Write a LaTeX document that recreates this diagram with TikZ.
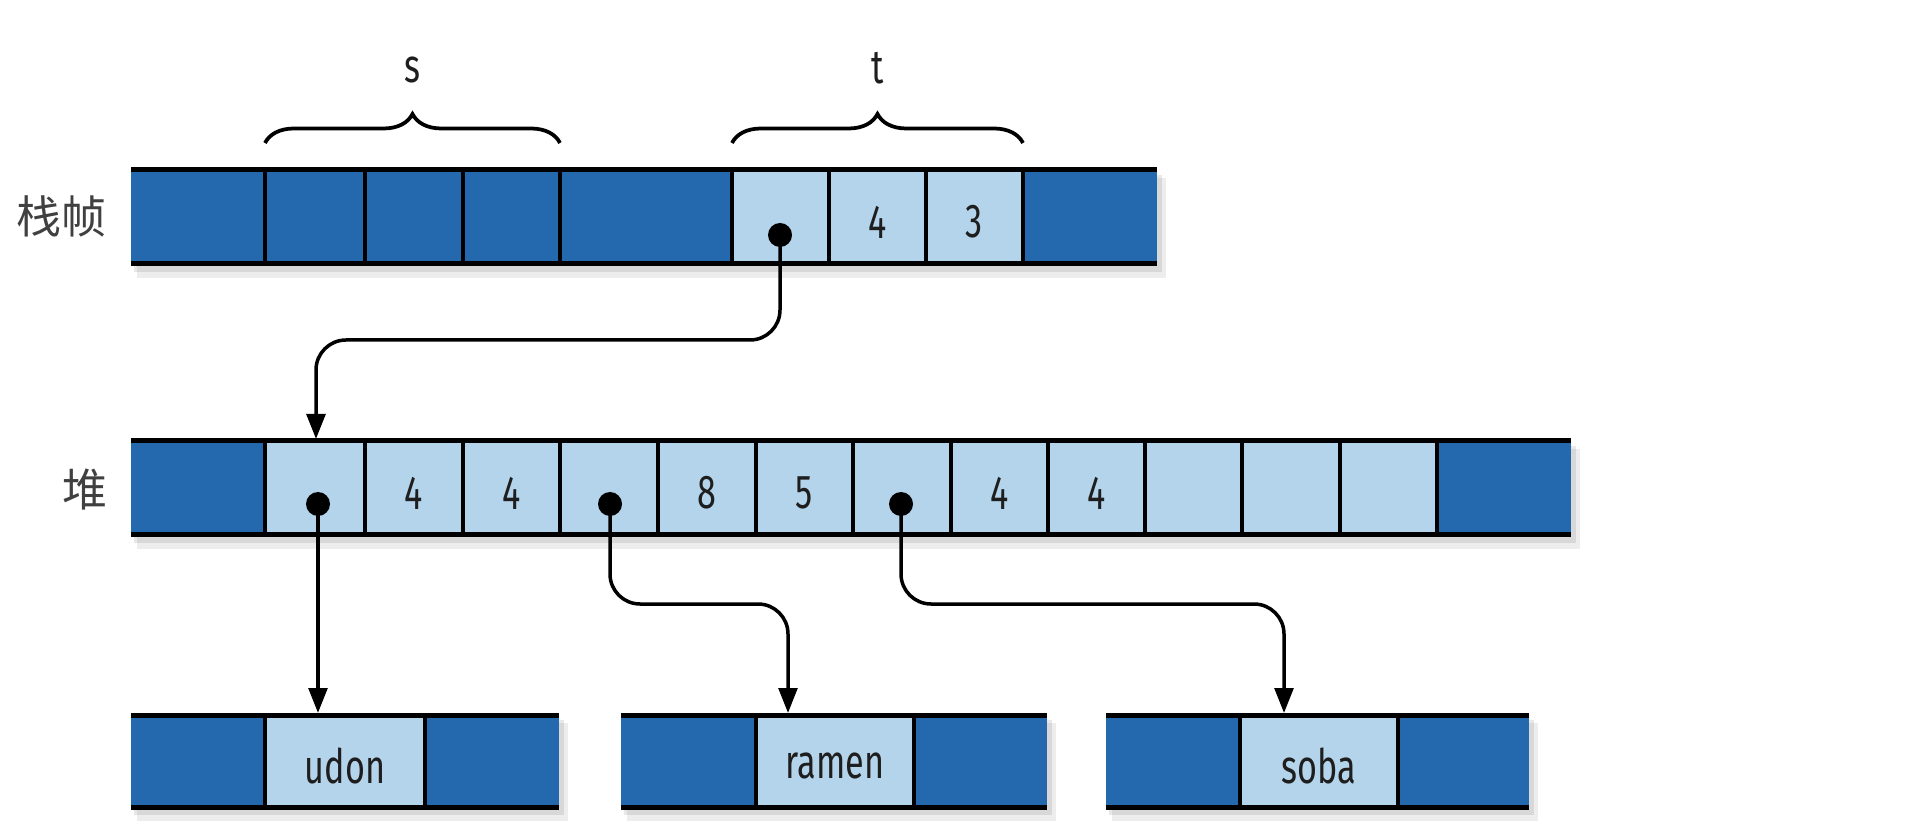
\documentclass[tikz,border=0pt]{standalone}
\usepackage{fontspec}
\setmainfont{Fira Sans}[FakeStretch=0.72]
\newfontfamily\cjk{Noto Sans CJK SC}
\usetikzlibrary{arrows.meta,decorations.pathreplacing}
\definecolor{dkblue}{HTML}{2468AE}
\definecolor{ltblue}{HTML}{B4D4EC}
\definecolor{txt}{HTML}{1E1E1E}
\newcommand\cellbox[7]{\node[#6, minimum width={(#3-#2)*0.4pt}, minimum height={(#5-#4)*0.4pt}] (#1) at ({(#2+#3)/2},{(#4+#5)/2}) {#7};}
\newcommand\rowshadow[4]{%
  \fill[black,opacity=0.07] (#1+6,#3+8) rectangle (#2+9,#4+14);
  \fill[black,opacity=0.09] (#1+3,#3+5) rectangle (#2+5,#4+8);}
\begin{document}
\begin{tikzpicture}[x=0.4pt,y=-0.4pt,
  cellbase/.style={inner sep=0pt, outer sep=0pt, draw=none},
  dk/.style={cellbase, fill=dkblue},
  lt/.style={cellbase, fill=ltblue},
  div/.style={line width=1.4pt, black},
  edge/.style={line width=2pt, black},
  dot/.style={circle, fill=black, inner sep=0pt, minimum size=9.6pt},
  num/.style={font=\fontsize{19}{22}\selectfont, text=txt, inner sep=0pt},
  lab/.style={font=\fontsize{19}{22}\selectfont, text=txt, inner sep=0pt},
  side/.style={font=\cjk\fontsize{18}{22}\selectfont, text=black!75, inner sep=0pt},
  brc/.style={decorate, decoration={brace, amplitude=11.6pt, aspect=0.5}, line width=1.5pt, black},
  ptr/.style={line width=1.4pt, black, rounded corners=12pt, -{Triangle[length=10pt,width=7.5pt]}}]
\useasboundingbox (0,0) rectangle (1906,838);

% ---------- stack frame row ----------
\rowshadow{131}{1157}{170}{264}
\cellbox{s0}{131}{265}{170}{264}{dk}{}
\cellbox{s1}{265}{365}{170}{264}{dk}{}
\cellbox{s2}{365}{463}{170}{264}{dk}{}
\cellbox{s3}{463}{560}{170}{264}{dk}{}
\cellbox{s4}{560}{732}{170}{264}{dk}{}
\cellbox{s5}{732}{829}{170}{264}{lt}{}
\cellbox{s6}{829}{926}{170}{264}{lt}{}
\cellbox{s7}{926}{1023}{170}{264}{lt}{}
\cellbox{s8}{1023}{1157}{170}{264}{dk}{}
\foreach \c in {s0,s1,s2,s3,s4,s5,s6,s7} \draw[div] (\c.north east) -- (\c.south east);
\draw[edge] (s0.north west) -- (s8.north east);
\draw[edge] (s0.south west) -- (s8.south east);
\node[num] (n1) at ([yshift=-2pt]s6.center) {4};
\node[num] (n2) at ([yshift=-2pt]s7.center) {3};
\node[side] (lstack) at (61,216) {栈帧};

% braces
\draw[brc] ([yshift=10.8pt]s1.north west) -- ([yshift=10.8pt]s3.north east);
\draw[brc] ([yshift=10.8pt]s5.north west) -- ([yshift=10.8pt]s7.north east);
\node[lab] (ls) at (412,70) {s};
\node[lab] (lt) at (878,68) {t};

% ---------- heap row ----------
\rowshadow{131}{1571}{441}{535}
\cellbox{h0}{131}{265}{441}{535}{dk}{}
\cellbox{h1}{265}{365}{441}{535}{lt}{}
\cellbox{h2}{365}{463}{441}{535}{lt}{}
\cellbox{h3}{463}{560}{441}{535}{lt}{}
\cellbox{h4}{560}{658}{441}{535}{lt}{}
\cellbox{h5}{658}{756}{441}{535}{lt}{}
\cellbox{h6}{756}{853}{441}{535}{lt}{}
\cellbox{h7}{853}{951}{441}{535}{lt}{}
\cellbox{h8}{951}{1048}{441}{535}{lt}{}
\cellbox{h9}{1048}{1145}{441}{535}{lt}{}
\cellbox{h10}{1145}{1242}{441}{535}{lt}{}
\cellbox{h11}{1242}{1340}{441}{535}{lt}{}
\cellbox{h12}{1340}{1437}{441}{535}{lt}{}
\cellbox{h13}{1437}{1571}{441}{535}{dk}{}
\foreach \c in {h0,h1,h2,h3,h4,h5,h6,h7,h8,h9,h10,h11,h12} \draw[div] (\c.north east) -- (\c.south east);
\draw[edge] (h0.north west) -- (h13.north east);
\draw[edge] (h0.south west) -- (h13.south east);
\node[num] (n3) at ([yshift=-2pt]h2.center) {4};
\node[num] (n4) at ([yshift=-2pt]h3.center) {4};
\node[num] (n5) at ([yshift=-2pt]h5.center) {8};
\node[num] (n6) at ([yshift=-2pt]h6.center) {5};
\node[num] (n7) at ([yshift=-2pt]h8.center) {4};
\node[num] (n8) at ([yshift=-2pt]h9.center) {4};
\node[side] (lheap) at (85,490) {堆};

% ---------- string rows ----------
\rowshadow{131}{559}{715}{807}
\cellbox{u0}{131}{265}{715}{807}{dk}{}
\cellbox{u1}{265}{425}{715}{807}{lt}{}
\cellbox{u2}{425}{559}{715}{807}{dk}{}
\foreach \c in {u0,u1} \draw[div] (\c.north east) -- (\c.south east);
\draw[edge] (u0.north west) -- (u2.north east);
\draw[edge] (u0.south west) -- (u2.south east);
\node[num] (tu) at ([yshift=-2pt]u1.center) {udon};

\rowshadow{621}{1047}{715}{807}
\cellbox{r0}{621}{756}{715}{807}{dk}{}
\cellbox{r1}{756}{914}{715}{807}{lt}{}
\cellbox{r2}{914}{1047}{715}{807}{dk}{}
\foreach \c in {r0,r1} \draw[div] (\c.north east) -- (\c.south east);
\draw[edge] (r0.north west) -- (r2.north east);
\draw[edge] (r0.south west) -- (r2.south east);
\node[num] (tr) at ([yshift=-2pt]r1.center) {ramen};

\rowshadow{1106}{1529}{715}{807}
\cellbox{b0}{1106}{1240}{715}{807}{dk}{}
\cellbox{b1}{1240}{1398}{715}{807}{lt}{}
\cellbox{b2}{1398}{1529}{715}{807}{dk}{}
\foreach \c in {b0,b1} \draw[div] (\c.north east) -- (\c.south east);
\draw[edge] (b0.north west) -- (b2.north east);
\draw[edge] (b0.south west) -- (b2.south east);
\node[num] (tb) at ([yshift=-2pt]b1.center) {soba};

% ---------- pointers ----------
\coordinate (turn1) at (316,340);
\coordinate (hin) at (316,439);
\coordinate (uin) at (318,713);
\coordinate (turn2) at (788,604);
\coordinate (rin) at (788,713);
\coordinate (turn3) at (1284,604);
\coordinate (bin) at (1284,713);

\node[dot] (sd) at (780,235) {};
\node[dot] (hd1) at (318,504) {};
\node[dot] (hd2) at (610,504) {};
\node[dot] (hd3) at (901,504) {};

\draw[ptr] (sd.center) |- (turn1) -- (hin);
\draw[ptr] (hd1.center) -- (uin);
\draw[ptr] (hd2.center) |- (turn2) -- (rin);
\draw[ptr] (hd3.center) |- (turn3) -- (bin);
\end{tikzpicture}
\end{document}
